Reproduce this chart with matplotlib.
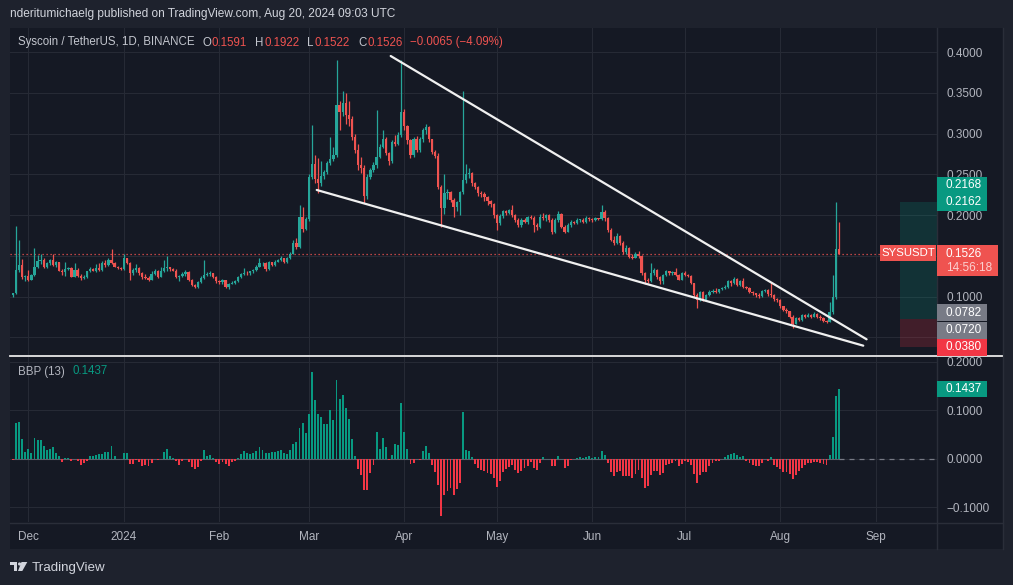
import numpy as np
import pandas as pd
import matplotlib
matplotlib.use("Agg")
import matplotlib.pyplot as plt
from matplotlib.patches import Rectangle, Polygon, Circle
from matplotlib.transforms import IdentityTransform

# ---------------- data ----------------
start_date = "2023-11-26"
first_open = 0.1015

closes = [
    0.104, 0.133, 0.139, 0.124, 0.125, 0.121, 0.127, 0.137, 0.144, 0.145,
    0.136, 0.141, 0.145, 0.139, 0.142, 0.132, 0.130, 0.134, 0.135, 0.1245,
    0.133, 0.125, 0.1235, 0.124, 0.131, 0.134, 0.132, 0.135, 0.133, 0.141,
    0.139, 0.145, 0.141, 0.137, 0.135, 0.134, 0.147, 0.141, 0.129, 0.133,
    0.135, 0.129, 0.124, 0.123, 0.121, 0.128, 0.132, 0.1245, 0.132, 0.135,
    0.136, 0.134, 0.132, 0.124, 0.126, 0.128, 0.130, 0.121, 0.1145, 0.1125,
    0.118, 0.1235, 0.127, 0.128, 0.1285, 0.1245, 0.119, 0.1175, 0.1205, 0.1125,
    0.1155, 0.117, 0.119, 0.124, 0.128, 0.129, 0.1285, 0.131, 0.133, 0.137,
    0.141, 0.1415, 0.1335, 0.142, 0.139, 0.143, 0.145, 0.147, 0.142, 0.147,
    0.153, 0.166, 0.161, 0.198, 0.183, 0.195, 0.247, 0.263, 0.244, 0.239,
    0.248, 0.253, 0.264, 0.269, 0.274, 0.335, 0.327, 0.338, 0.323, 0.318,
    0.296, 0.280, 0.262, 0.258, 0.223, 0.247, 0.256, 0.262, 0.272, 0.284,
    0.294, 0.276, 0.266, 0.290, 0.288, 0.298, 0.327, 0.309, 0.292, 0.274,
    0.294, 0.280, 0.294, 0.305, 0.308, 0.293, 0.277, 0.273, 0.235, 0.2085,
    0.227, 0.228, 0.219, 0.210, 0.216, 0.228, 0.243, 0.250, 0.252, 0.239,
    0.235, 0.227, 0.226, 0.222, 0.217, 0.214, 0.200, 0.190, 0.199, 0.205,
    0.203, 0.206, 0.200, 0.194, 0.188, 0.194, 0.192, 0.198, 0.197, 0.188,
    0.186, 0.198, 0.196, 0.200, 0.194, 0.179, 0.194, 0.202, 0.186, 0.180,
    0.188, 0.192, 0.191, 0.194, 0.1945, 0.192, 0.197, 0.195, 0.194, 0.196,
    0.195, 0.204, 0.196, 0.182, 0.170, 0.166, 0.175, 0.166, 0.155, 0.160,
    0.149, 0.148, 0.153, 0.150, 0.129, 0.121, 0.119, 0.129, 0.133, 0.124,
    0.119, 0.1265, 0.131, 0.129, 0.130, 0.127, 0.121, 0.129, 0.127, 0.126,
    0.1165, 0.102, 0.096, 0.106, 0.096, 0.102, 0.106, 0.107, 0.106, 0.109,
    0.111, 0.112, 0.1195, 0.117, 0.122, 0.114, 0.119, 0.112, 0.111, 0.106,
    0.104, 0.102, 0.101, 0.107, 0.108, 0.103, 0.102, 0.097, 0.096, 0.088,
    0.084, 0.082, 0.0755, 0.067, 0.0734, 0.0714, 0.0775, 0.0755, 0.078, 0.0755,
    0.079, 0.0755, 0.0734, 0.0705, 0.0693, 0.0816, 0.0992, 0.1591, 0.1526,
]

highs = [
    0.105, 0.187, 0.170, 0.146, 0.127, 0.133, 0.128, 0.160, 0.151, 0.152,
    0.147, 0.143, 0.146, 0.152, 0.144, 0.143, 0.134, 0.142, 0.137, 0.136,
    0.1415, 0.135, 0.128, 0.127, 0.132, 0.136, 0.135, 0.140, 0.141, 0.144,
    0.145, 0.147, 0.158, 0.142, 0.138, 0.137, 0.153, 0.148, 0.142, 0.135,
    0.140, 0.136, 0.130, 0.128, 0.126, 0.131, 0.134, 0.133, 0.136, 0.145,
    0.150, 0.137, 0.135, 0.134, 0.127, 0.130, 0.133, 0.131, 0.122, 0.116,
    0.119, 0.125, 0.145, 0.130, 0.131, 0.129, 0.125, 0.120, 0.122, 0.121,
    0.117, 0.119, 0.120, 0.125, 0.129, 0.135, 0.131, 0.132, 0.134, 0.139,
    0.147, 0.143, 0.142, 0.144, 0.143, 0.145, 0.146, 0.150, 0.148, 0.149,
    0.155, 0.169, 0.172, 0.212, 0.210, 0.198, 0.250, 0.311, 0.274, 0.270,
    0.267, 0.256, 0.266, 0.296, 0.284, 0.390, 0.340, 0.352, 0.350, 0.340,
    0.322, 0.300, 0.288, 0.272, 0.262, 0.250, 0.258, 0.265, 0.329, 0.287,
    0.305, 0.296, 0.278, 0.292, 0.298, 0.302, 0.3905, 0.330, 0.311, 0.294,
    0.296, 0.297, 0.296, 0.307, 0.312, 0.309, 0.294, 0.280, 0.276, 0.237,
    0.251, 0.232, 0.230, 0.221, 0.218, 0.230, 0.352, 0.263, 0.258, 0.253,
    0.241, 0.236, 0.230, 0.228, 0.224, 0.219, 0.215, 0.202, 0.201, 0.207,
    0.207, 0.208, 0.212, 0.202, 0.196, 0.196, 0.196, 0.199, 0.200, 0.199,
    0.190, 0.201, 0.203, 0.202, 0.201, 0.196, 0.196, 0.205, 0.203, 0.188,
    0.190, 0.194, 0.193, 0.196, 0.195, 0.196, 0.199, 0.198, 0.197, 0.198,
    0.197, 0.213, 0.206, 0.198, 0.184, 0.174, 0.178, 0.176, 0.168, 0.163,
    0.161, 0.152, 0.155, 0.156, 0.151, 0.130, 0.123, 0.141, 0.135, 0.134,
    0.126, 0.128, 0.133, 0.132, 0.132, 0.135, 0.128, 0.130, 0.131, 0.128,
    0.127, 0.117, 0.104, 0.107, 0.107, 0.103, 0.108, 0.109, 0.111, 0.110,
    0.112, 0.114, 0.121, 0.121, 0.124, 0.123, 0.120, 0.123, 0.113, 0.112,
    0.107, 0.105, 0.104, 0.108, 0.110, 0.109, 0.118, 0.103, 0.098, 0.097,
    0.089, 0.086, 0.083, 0.077, 0.075, 0.075, 0.079, 0.079, 0.080, 0.079,
    0.081, 0.080, 0.077, 0.075, 0.072, 0.094, 0.1266, 0.2168, 0.1922,
]

lows = [
    0.100, 0.103, 0.130, 0.122, 0.119, 0.119, 0.120, 0.125, 0.135, 0.140,
    0.135, 0.135, 0.139, 0.138, 0.137, 0.131, 0.127, 0.126, 0.133, 0.124,
    0.124, 0.124, 0.120, 0.122, 0.123, 0.130, 0.131, 0.130, 0.132, 0.131,
    0.137, 0.138, 0.140, 0.136, 0.134, 0.133, 0.133, 0.140, 0.120, 0.127,
    0.130, 0.127, 0.122, 0.122, 0.119, 0.120, 0.127, 0.123, 0.124, 0.130,
    0.132, 0.131, 0.131, 0.123, 0.119, 0.124, 0.126, 0.119, 0.113, 0.111,
    0.111, 0.117, 0.122, 0.125, 0.126, 0.123, 0.117, 0.115, 0.116, 0.111,
    0.110, 0.115, 0.116, 0.118, 0.123, 0.127, 0.127, 0.127, 0.129, 0.132,
    0.136, 0.138, 0.132, 0.133, 0.138, 0.138, 0.142, 0.144, 0.141, 0.141,
    0.146, 0.152, 0.158, 0.160, 0.180, 0.182, 0.193, 0.245, 0.240, 0.227,
    0.236, 0.245, 0.250, 0.262, 0.267, 0.272, 0.305, 0.322, 0.312, 0.310,
    0.292, 0.276, 0.255, 0.252, 0.215, 0.220, 0.244, 0.253, 0.258, 0.270,
    0.282, 0.274, 0.262, 0.264, 0.285, 0.286, 0.296, 0.305, 0.288, 0.270,
    0.272, 0.278, 0.278, 0.290, 0.300, 0.290, 0.275, 0.270, 0.232, 0.186,
    0.202, 0.220, 0.216, 0.198, 0.205, 0.200, 0.226, 0.240, 0.246, 0.236,
    0.232, 0.224, 0.222, 0.218, 0.213, 0.210, 0.196, 0.182, 0.188, 0.197,
    0.200, 0.201, 0.198, 0.192, 0.185, 0.186, 0.190, 0.189, 0.195, 0.180,
    0.182, 0.184, 0.194, 0.193, 0.192, 0.177, 0.178, 0.192, 0.184, 0.178,
    0.179, 0.186, 0.189, 0.189, 0.192, 0.190, 0.191, 0.193, 0.192, 0.193,
    0.194, 0.194, 0.193, 0.180, 0.168, 0.164, 0.165, 0.163, 0.153, 0.153,
    0.147, 0.146, 0.147, 0.148, 0.127, 0.116, 0.117, 0.118, 0.127, 0.122,
    0.116, 0.116, 0.125, 0.127, 0.127, 0.126, 0.120, 0.120, 0.126, 0.124,
    0.115, 0.100, 0.086, 0.095, 0.095, 0.095, 0.101, 0.105, 0.105, 0.105,
    0.108, 0.110, 0.111, 0.113, 0.116, 0.113, 0.113, 0.111, 0.109, 0.104,
    0.102, 0.100, 0.098, 0.100, 0.106, 0.101, 0.100, 0.095, 0.094, 0.086,
    0.082, 0.080, 0.074, 0.061, 0.066, 0.070, 0.070, 0.074, 0.075, 0.074,
    0.075, 0.074, 0.072, 0.069, 0.068, 0.069, 0.079, 0.097, 0.1522,
]

month_ticks = ["2023-12-01", "2024-01-01", "2024-02-01", "2024-03-01", "2024-04-01",
               "2024-05-01", "2024-06-01", "2024-07-01", "2024-08-01", "2024-09-01"]
month_labels = ["Dec", "2024", "Feb", "Mar", "Apr", "May", "Jun", "Jul", "Aug", "Sep"]

price_ticks = [0.05, 0.10, 0.15, 0.20, 0.25, 0.30, 0.35, 0.40]
hidden_price_ticks = [0.05, 0.15]          # covered by value labels in the reference
bbp_ticks = [-0.1, 0.0, 0.1, 0.2]
bbp_tick_labels = ["\u22120.1000", "0.0000", "0.1000", "0.2000"]

wedge_upper = [("2024-03-27 14:00", 0.3954), ("2024-08-29 00:00", 0.0477)]
wedge_lower = [("2024-03-03 14:00", 0.2310), ("2024-08-27 22:00", 0.0399)]

position_start = "2024-09-08 22:00"
position_target = 0.2162
position_entry = 0.0725
position_stop = 0.0380

last_price = 0.1526
bbp_length = 13
bbp_last = 0.1437

# axis value labels (value, text, colour)
axis_labels = [
    (0.2168, "0.2168", "#089981"),
    (0.2162, "0.2162", "#089981"),
    (0.0782, "0.0782", "#787b86"),
    (0.0720, "0.0720", "#787b86"),
    (0.0380, "0.0380", "#f23645"),
]

# ---------------- style ----------------
W, H = 1013, 585
OUTER = "#1e222d"
BG = "#151924"
GRID = "#262a35"
BORDER = "#2a2e39"
TXT = "#b2b5be"
UP = "#26a69a"
DN = "#ef5350"
BBP_UP = "#089981"
BBP_DN = "#f23645"
FS = 8.5

plt.rcParams["font.family"] = ["Liberation Sans", "DejaVu Sans"]

# ---------------- derived ----------------
t0 = pd.Timestamp(start_date)
C = np.array(closes)
Hh = np.array(highs)
Ll = np.array(lows)
O = np.concatenate([[first_open], C[:-1]])
Hh = np.maximum(Hh, np.maximum(O, C))
Ll = np.minimum(Ll, np.minimum(O, C))
n = len(C)
x = np.arange(n)

ema = pd.Series(C).ewm(span=bbp_length, adjust=False).mean().values
bbp = Hh + Ll - 2 * ema


def day_of(s):
    return (pd.Timestamp(s) - t0) / pd.Timedelta(days=1)


tick_idx = [day_of(s) for s in month_ticks]

# ---------------- figure ----------------
fig = plt.figure(figsize=(W / 100, H / 100), dpi=100)
fig.patch.set_facecolor(OUTER)
ID = IdentityTransform()
renderer = fig.canvas.get_renderer()


def prect(x0, y0, x1, y1, **kw):
    # rectangle given in top-left pixel coordinates
    fig.add_artist(Rectangle((x0, H - y1), x1 - x0, y1 - y0, transform=ID, **kw))


def pline(xs, ys, **kw):
    fig.add_artist(plt.Line2D(xs, [H - v for v in ys], transform=ID, **kw))


def ptext(px, py, s, **kw):
    return fig.text(px, H - py, s, transform=ID, **kw)


# chart background
prect(10, 28, 1003, 549, facecolor=BG, edgecolor="none", zorder=-10)

ax = fig.add_axes([10 / W, 1 - 355 / H, 927 / W, 327 / H])
ax2 = fig.add_axes([10 / W, 1 - 522 / H, 927 / W, 165 / H], sharex=ax)

xmin, xmax = -0.94, 299.84
for a in (ax, ax2):
    a.set_facecolor(BG)
    for s in a.spines.values():
        s.set_visible(False)
    a.set_xlim(xmin, xmax)
    a.set_xticks(tick_idx)
    a.grid(True, color=GRID, lw=0.8, zorder=0)
    a.set_axisbelow(True)
    a.yaxis.tick_right()
    a.tick_params(axis="y", length=0, pad=7, labelsize=FS, labelcolor=TXT)

ax.set_ylim(0.02845, 0.42977)
ax.set_yticks(price_ticks)
ax.set_yticklabels(["" if any(abs(v - h) < 1e-9 for h in hidden_price_ticks) else f"{v:.4f}"
                    for v in price_ticks])
ax.tick_params(axis="x", length=0, labelbottom=False)

ax2.set_ylim(-0.1305, 0.2097)
ax2.set_yticks(bbp_ticks)
ax2.set_yticklabels(bbp_tick_labels)
ax2.set_xticklabels(month_labels)
ax2.tick_params(axis="x", length=0, pad=6.5, labelsize=FS, labelcolor=TXT)

# ---------------- candles ----------------
up = C >= O
cols = np.where(up, UP, DN)
ax.vlines(x, Ll, Hh, colors=cols, lw=0.9, zorder=3)
body = np.maximum(np.abs(C - O), 0.0009)
ax.bar(x, body, bottom=np.minimum(O, C), width=0.74, color=cols, lw=0, zorder=4)

# current price dotted line
ax.axhline(last_price, color=DN, lw=0.9, ls=(0, (1, 2.2)), zorder=2)

# long position tool
ps = day_of(position_start)
ax.add_patch(Rectangle((ps, position_entry), xmax - ps + 5, position_target - position_entry,
                       facecolor="#089981", alpha=0.2, edgecolor="none", zorder=1))
ax.add_patch(Rectangle((ps, position_stop), xmax - ps + 5, position_entry - position_stop,
                       facecolor="#f23645", alpha=0.2, edgecolor="none", zorder=1))

# wedge lines
for line in (wedge_upper, wedge_lower):
    ax.plot([day_of(line[0][0]), day_of(line[1][0])], [line[0][1], line[1][1]],
            color="#f0f0f0", lw=1.6, solid_capstyle="round", zorder=5)

# ---------------- BBP ----------------
bcols = np.where(bbp >= 0, BBP_UP, BBP_DN)
ax2.plot([0, n - 1], [0, 0], color="#5d606b", lw=0.8, zorder=2)
ax2.plot([n - 1, xmax], [0, 0], color="#787b86", lw=0.9, ls=(0, (4, 4)), zorder=2)
ax2.bar(x, bbp, width=0.62, color=bcols, lw=0, zorder=3)

# ---------------- frame lines ----------------
pline([937, 937], [28, 549], color=BORDER, lw=1, zorder=2)
pline([10, 1003], [522.5, 522.5], color=BORDER, lw=1, zorder=2)
pline([1003, 1003], [28, 549], color=BORDER, lw=1, zorder=2)
pline([10, 1002], [356, 356], color="#e8e8e8", lw=1.3, zorder=6)

# ---------------- axis label boxes ----------------
def val_py(a, v):
    return H - a.transData.transform((0, v))[1]


offsets = {"0.2168": -16.5, "0.0782": -1.8, "0.0720": 10.5}
for v, s, c in axis_labels:
    yc = val_py(ax, v) + offsets.get(s, 0.0)
    h = 17
    prect(937, yc - h / 2, 987, yc + h / 2, facecolor=c, edgecolor="none", zorder=8)
    ptext(946, yc, s, color="white", fontsize=FS, va="center", ha="left", zorder=9)

# last price box
yp = val_py(ax, last_price)
prect(937, yp - 8.8, 998, yp + 22, facecolor=DN, edgecolor="none", zorder=8)
ptext(946, yp, f"{last_price:.4f}", color="white", fontsize=FS, va="center", zorder=9)
ptext(946, yp + 14.5, "14:56:18", color="#fbd0d0", fontsize=FS, va="center", zorder=9)
prect(880, yp - 8.8, 936, yp + 7, facecolor=DN, edgecolor="none", zorder=8)
ptext(908, yp - 0.8, "SYSUSDT", color="white", fontsize=8.2, va="center", ha="center", zorder=9)

# BBP value box
yb = val_py(ax2, bbp_last)
prect(937, yb - 8.3, 987, yb + 8.3, facecolor=BBP_UP, edgecolor="none", zorder=8)
ptext(946, yb, f"{bbp_last:.4f}", color="white", fontsize=FS, va="center", zorder=9)

# ---------------- texts ----------------
ptext(10, 14, "nderitumichaelg published on TradingView.com, Aug 20, 2024 09:03 UTC",
      color="#d1d4dc", fontsize=8.6, va="center", ha="left")

GREY = "#c3c6ce"
legend_parts = [
    ("Syscoin / TetherUS, 1D, BINANCE", GREY, 8.0),
    ("O", GREY, 0.8), ("0.1591", DN, 8.0),
    ("H", GREY, 0.8), ("0.1922", DN, 8.0),
    ("L", GREY, 0.8), ("0.1522", DN, 8.0),
    ("C", GREY, 0.8), ("0.1526", DN, 8.0),
    ("\u22120.0065 (\u22124.09%)", DN, 0.0),
]
cur = 17.5
for s, c, gap in legend_parts:
    t = ptext(cur, 42.5, s, color=c, fontsize=8.3, va="center", ha="left", zorder=9)
    cur = t.get_window_extent(renderer).x1 + gap

t = ptext(18, 371.5, "BBP (13)", color="#b2b5be", fontsize=8.3, va="center", zorder=9)
ptext(t.get_window_extent(renderer).x1 + 8, 371.5, f"{bbp_last:.4f}", color=BBP_UP,
      fontsize=8.3, va="center", zorder=9)

# TradingView logo
logo = "#d1d4dc"
prect(10, 562, 17.3, 565, facecolor=logo, edgecolor="none")
prect(14, 562, 17.3, 571, facecolor=logo, edgecolor="none")
fig.add_artist(Circle((19.6, H - 564), 1.6, transform=ID, facecolor=logo, edgecolor="none"))
fig.add_artist(Polygon([(21.5, H - 562), (27.3, H - 562), (22.3, H - 571), (18.0, H - 571)],
                       closed=True, transform=ID, facecolor=logo, edgecolor="none"))
ptext(32, 567.5, "TradingView", color=logo, fontsize=9.6, va="center", ha="left")

fig.savefig("out.png", dpi=100, facecolor=OUTER)
